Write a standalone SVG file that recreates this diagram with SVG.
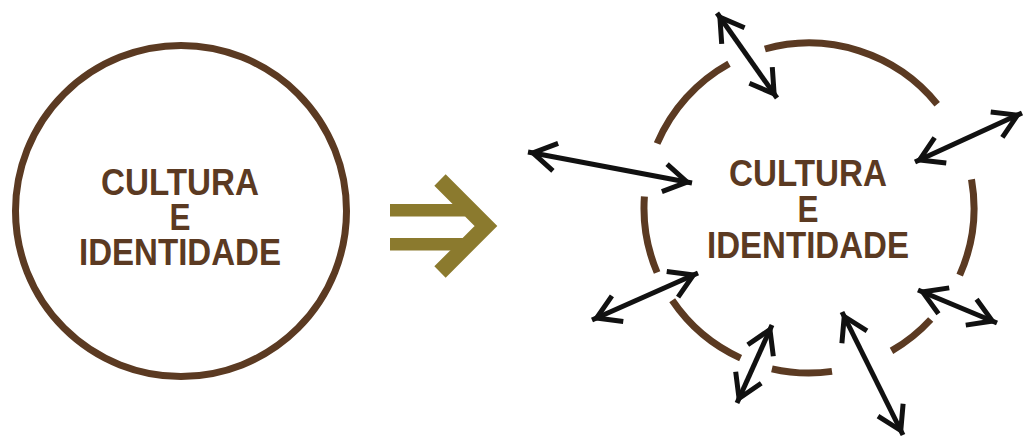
<svg xmlns="http://www.w3.org/2000/svg" width="1025" height="437" viewBox="0 0 1025 437">
<style>
.ring{fill:none;stroke:#5b3a22;stroke-width:7}
.arc{fill:none;stroke:#5b3a22;stroke-width:7;stroke-linecap:butt}
.lbl{font-family:"Liberation Sans",Arial,sans-serif;font-weight:bold;font-size:36px;fill:#5b3a22;text-anchor:middle}
.dbl{stroke:#111;stroke-width:5;fill:none;marker-start:url(#head);marker-end:url(#head)}
</style>
<defs>
<marker id="head" markerUnits="userSpaceOnUse" viewBox="-30 -20 40 40" markerWidth="40" markerHeight="40" refX="5" refY="0" orient="auto-start-reverse" overflow="visible">
<path d="M-23,-14 L0,0 L-23,14" fill="none" stroke="#111" stroke-width="5" stroke-linejoin="miter"/>
</marker>
</defs>
<rect width="1025" height="437" fill="#ffffff"/>
<g id="node-left">
<circle class="ring" cx="181" cy="211" r="165.5"/>
<text class="lbl" x="180" y="195" textLength="158" lengthAdjust="spacingAndGlyphs">CULTURA</text>
<text class="lbl" x="180" y="230" textLength="21" lengthAdjust="spacingAndGlyphs">E</text>
<text class="lbl" x="180" y="265" textLength="202" lengthAdjust="spacingAndGlyphs">IDENTIDADE</text>
</g>
<g id="transition-arrow" fill="#8b7a2e">
<rect x="390" y="204" width="75" height="12.5"/>
<rect x="390" y="238" width="75" height="12.5"/>
<polyline points="440,180 486,226 440,272" fill="none" stroke="#8b7a2e" stroke-width="16" stroke-linejoin="miter"/>
</g>
<g id="node-right">
<path class="arc" d="M657.1,143.5 A165,165 0 0,1 729,63.7"/>
<path class="arc" d="M764.9,49 A165,165 0 0,1 937.2,104.2"/>
<path class="arc" d="M971.5,179.4 A165,165 0 0,1 959.7,275.1"/>
<path class="arc" d="M930.7,319.5 A165,165 0 0,1 891.5,350.9"/>
<path class="arc" d="M832,371.4 A165,165 0 0,1 771.9,368.8"/>
<path class="arc" d="M740.6,358.1 A165,165 0 0,1 672.2,300.3"/>
<path class="arc" d="M657.1,272.5 A165,165 0 0,1 644.4,196.5"/>
<text class="lbl" x="808" y="186" textLength="158" lengthAdjust="spacingAndGlyphs">CULTURA</text>
<text class="lbl" x="808" y="222" textLength="21" lengthAdjust="spacingAndGlyphs">E</text>
<text class="lbl" x="808" y="258" textLength="202" lengthAdjust="spacingAndGlyphs">IDENTIDADE</text>
</g>
<g id="connectors">
<line class="dbl" x1="717" y1="13" x2="777" y2="98"/>
<line class="dbl" x1="528" y1="152" x2="692" y2="183"/>
<line class="dbl" x1="915" y1="162" x2="1022" y2="113"/>
<line class="dbl" x1="592" y1="320" x2="698" y2="273"/>
<line class="dbl" x1="737" y1="403" x2="772" y2="325"/>
<line class="dbl" x1="842" y1="312" x2="903" y2="435"/>
<line class="dbl" x1="918" y1="290" x2="997" y2="323"/>
</g>
</svg>
